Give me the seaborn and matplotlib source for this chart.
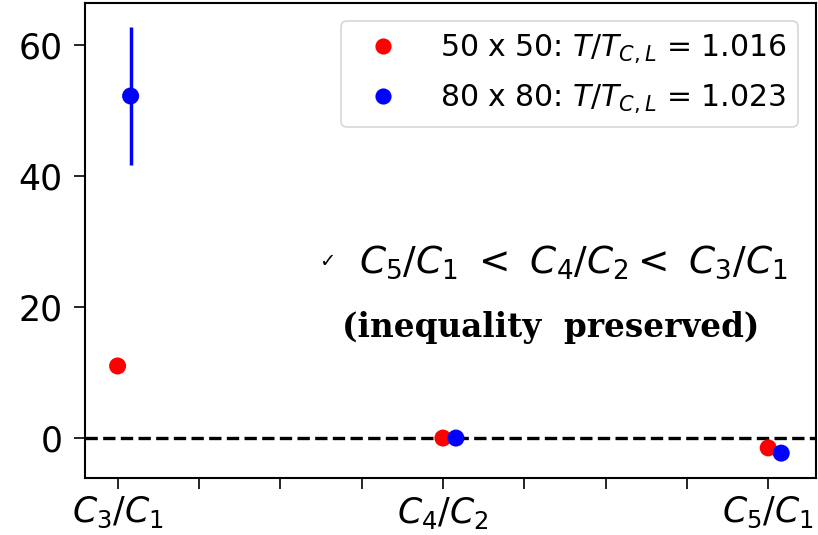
import matplotlib
matplotlib.use("Agg")
import matplotlib.pyplot as plt
import seaborn as sns
import pandas as pd
import numpy as np

sns.set_style("ticks", {"axes.edgecolor": "black", "xtick.color": "black",
                        "ytick.color": "black", "text.color": "black",
                        "axes.labelcolor": "black"})
plt.rcParams['font.family'] = ['DejaVu Sans']
plt.rcParams['mathtext.fontset'] = 'dejavusans'

ratios = [r"$C_3/C_1$", r"$C_4/C_2$", r"$C_5/C_1$"]
series = [r"50 x 50: $T/T_{C,L}$ = 1.016", r"80 x 80: $T/T_{C,L}$ = 1.023"]
values_50 = [11.0, 0.0, -1.5]
values_80 = [52.2, 0.0, -2.3]
errors_80 = [10.6, 0.0, 0.0]
offsets = [0.0, 0.04]
colors = ["red", "blue"]

rows = []
for s, vals, off in zip(series, [values_50, values_80], offsets):
    for i, v in enumerate(vals):
        rows.append({"x": i + off, "value": v, "series": s})
df = pd.DataFrame(rows)

fig = plt.figure(figsize=(8.18, 5.35), dpi=100)
ax = fig.add_axes([0.104, 0.1065, 0.8936, 0.888])

ax.axhline(0, color="black", ls="--", lw=2.4, zorder=1)

sns.scatterplot(data=df, x="x", y="value", hue="series", palette=colors,
                s=150, edgecolor="none", ax=ax, zorder=3)

x80 = np.arange(len(ratios)) + offsets[1]
ax.errorbar(x80, values_80, yerr=errors_80, fmt="none", ecolor="blue",
            elinewidth=2.5, zorder=2)

ticks = np.arange(0, 2.01, 0.25)
ax.set_xlim(-0.1, 2.147)
ax.set_ylim(-6.1, 66.4)
ax.set_xticks(ticks)
ax.set_xticklabels([ratios[int(round(t))] if abs(t - round(t)) < 1e-9 else "" for t in ticks])
ax.set_yticks([0, 20, 40, 60])
ax.tick_params(axis="y", labelsize=25, length=8, width=1.2, pad=8)
ax.tick_params(axis="x", labelsize=25, length=8, width=1.2, pad=4)
ax.set_xlabel("")
ax.set_ylabel("")
for sp in ax.spines.values():
    sp.set_linewidth(1.5)

leg = ax.legend(loc="upper right", fontsize=21.5, frameon=True,
                handletextpad=0.9, markerscale=0.95, borderaxespad=0.6,
                labelspacing=0.6)
leg.get_frame().set_edgecolor("#cccccc")
leg.get_frame().set_linewidth(1.2)

ax.text(0.643, 27.0, "✓", fontsize=14, fontweight="bold", ha="center", va="center")
ax.text(1.40, 26.8, r"$C_5/C_1\ <\ C_4/C_2 <\ C_3/C_1$", fontsize=27,
        ha="center", va="center")
ax.text(1.33, 16.8, "(inequality  preserved)", fontsize=23.5, fontweight="bold",
        family="DejaVu Serif", ha="center", va="center")

fig.savefig("out.png", dpi=100)
